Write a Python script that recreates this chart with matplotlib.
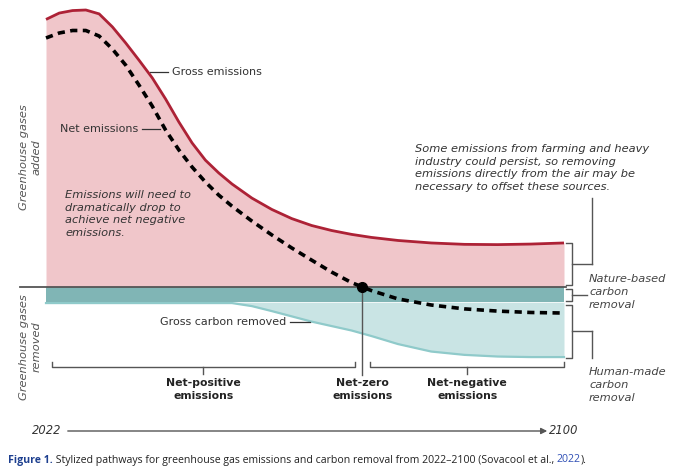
import matplotlib
matplotlib.use("Agg")
import matplotlib.pyplot as plt
import numpy as np

# values (arbitrary units, gross peak ~100)
years = [2022, 2024, 2026, 2028, 2030, 2032, 2034, 2036, 2038, 2040, 2042, 2044, 2046, 2048,
         2050, 2053, 2056, 2059, 2062, 2065, 2068, 2071, 2075, 2080, 2085, 2090, 2095, 2100]
gross_emissions = [96.6, 98.9, 99.8, 100.0, 98.6, 93.9, 88.1, 81.9, 75.5, 67.9, 59.6, 52.0, 45.8, 41.2,
                   37.2, 32.1, 28.0, 24.7, 22.2, 20.4, 19.0, 17.9, 16.8, 15.9, 15.4, 15.3, 15.5, 15.9]
net_emissions = [89.9, 91.7, 92.6, 92.6, 90.6, 85.9, 80.1, 72.9, 65.3, 56.7, 49.5, 43.3, 37.9, 33.2,
                 29.2, 23.8, 18.8, 14.1, 9.7, 5.4, 1.6, -1.3, -4.3, -6.5, -7.9, -8.7, -9.2, -9.4]
gross_removed = [-5.8, -5.8, -5.8, -5.8, -5.8, -5.8, -5.8, -5.8, -5.8, -5.8, -5.8, -5.8, -5.8, -5.8,
                 -5.8, -6.9, -8.7, -10.6, -12.5, -14.1, -15.7, -17.7, -20.6, -23.3, -24.5, -25.1, -25.3, -25.3]
nature_based = -5.5

x = np.array(years, dtype=float)
gross = np.array(gross_emissions)
net = np.array(net_emissions)
removed = np.array(gross_removed)

RED_FILL = '#f0c6ca'
RED_LINE = '#ad2236'
TEAL_DARK = '#80b5b5'
TEAL_LIGHT = '#c9e4e4'
TEAL_EDGE = '#8fcaca'
GREY = '#555555'
TXT = '#333333'

W, H = 680, 476
XS = 518 / 78.0   # px per year
YS = 2.77         # px per unit
X_LEFT_PX, ZERO_PX = 46, 287

def dx(p):
    return 2022 + (p - X_LEFT_PX) / XS

def dy(p):
    return (ZERO_PX - p) / YS

plt.rcParams['font.family'] = ['DejaVu Sans']

fig = plt.figure(figsize=(W / 100, H / 100), dpi=100)
ax = fig.add_axes([0, 0, 1, 1])
ax.set_xlim(dx(0), dx(W))
ax.set_ylim(dy(H), dy(0))
ax.axis('off')

# areas
ax.fill_between(x, 0, gross, color=RED_FILL, lw=0, zorder=1)
ax.fill_between(x, nature_based, removed, color=TEAL_LIGHT, lw=0, zorder=1)
ax.fill_between(x, 0, nature_based, color=TEAL_DARK, lw=0, zorder=2)
ax.plot(x, removed, color=TEAL_EDGE, lw=1.6, zorder=2)
ax.plot(x, gross, color=RED_LINE, lw=2.0, solid_capstyle='butt', solid_joinstyle='round', zorder=3)
ax.plot([dx(20), dx(566)], [0, 0], color=GREY, lw=1.3, zorder=3)
ax.plot(x, net, color='black', lw=2.6, dashes=(2.0, 1.5), zorder=4)

# net-zero point
k = int(np.argmax(net))
nz_year = np.interp(0, net[k:][::-1], x[k:][::-1])
ax.plot([nz_year], [0], 'o', color='black', ms=7, zorder=5)
ax.plot([nz_year, nz_year], [0, dy(375)], color=GREY, lw=1.0, zorder=4)

# curve labels
lab = dict(fontsize=8.0, color=TXT, va='center')
ax.plot([dx(150), dx(168)], [dy(72)] * 2, color=TXT, lw=0.9)
ax.text(dx(172), dy(72), 'Gross emissions', ha='left', **lab)
ax.plot([dx(142), dx(160)], [dy(129)] * 2, color=TXT, lw=0.9)
ax.text(dx(138), dy(129), 'Net emissions', ha='right', **lab)
ax.plot([dx(290), dx(310)], [dy(322)] * 2, color=TXT, lw=0.9)
ax.text(dx(286), dy(322), 'Gross carbon removed', ha='right', **lab)

it = dict(fontsize=8.2, color=TXT, style='italic', linespacing=1.32)
ax.text(dx(65), dy(190), 'Emissions will need to\ndramatically drop to\nachieve net negative\nemissions.',
        ha='left', va='top', **it)
ax.text(dx(415), dy(144), 'Some emissions from farming and heavy\nindustry could persist, so removing\n'
        'emissions directly from the air may be\nnecessary to offset these sources.',
        ha='left', va='top', **it)

# y-side labels
yl = dict(fontsize=8.2, color=GREY, style='italic', rotation=90, ha='center', va='center',
          multialignment='center', linespacing=1.3)
ax.text(dx(30), dy(157), 'Greenhouse gases\nadded', **yl)
ax.text(dx(30), dy(347), 'Greenhouse gases\nremoved', **yl)

# right-hand brackets
bl = dict(color=GREY, lw=1.0)
def vbracket(top, bottom, tick_to):
    ax.plot([dx(566), dx(572), dx(572), dx(566)], [top, top, bottom, bottom], **bl)
    mid = (top + bottom) / 2
    ax.plot([dx(572), tick_to], [mid, mid], **bl)
    return mid

m1 = vbracket(gross[-1], dy(285), dx(592))
ax.plot([dx(592), dx(592)], [m1, dy(198)], **bl)
vbracket(dy(289), dy(301), dx(587))
m3 = vbracket(dy(305), removed[-1] - 0.3, dx(592))
ax.plot([dx(592), dx(592)], [m3, dy(358)], **bl)

rt = dict(it, color='#444444', linespacing=1.35)
ax.text(dx(589), dy(292), 'Nature-based\ncarbon\nremoval', ha='left', va='center', **rt)
ax.text(dx(589), dy(385), 'Human-made\ncarbon\nremoval', ha='left', va='center', **rt)

# bottom brackets
def hbracket(left, right):
    ax.plot([left, left, right, right], [dy(362), dy(367), dy(367), dy(362)], **bl)
    c = (left + right) / 2
    ax.plot([c, c], [dy(367), dy(374)], **bl)
    return c

c1 = hbracket(dx(52), nz_year - 1.2)
c2 = hbracket(nz_year + 1.2, x[-1])
bd = dict(fontsize=7.8, color='#222222', fontweight='bold', ha='center', va='top', linespacing=1.35)
ax.text(c1, dy(378), 'Net-positive\nemissions', **bd)
ax.text(nz_year, dy(378), 'Net-zero\nemissions', **bd)
ax.text(c2, dy(378), 'Net-negative\nemissions', **bd)

# time arrow
ax.text(dx(61), dy(431), '2022', ha='right', va='center', fontsize=8.3, style='italic', color=TXT)
ax.annotate('', xy=(dx(550), dy(431)), xytext=(dx(65), dy(431)),
            arrowprops=dict(arrowstyle='-|>', color=GREY, lw=1.0, mutation_scale=9))
ax.text(dx(549), dy(431), '2100', ha='left', va='center', fontsize=8.3, style='italic', color=TXT)

# caption
cap_parts = [('Figure 1.', '#1d3f8f', 'bold'),
             (' Stylized pathways for greenhouse gas emissions and carbon removal from 2022\u20132100 (Sovacool et al., ', '#222222', 'normal'),
             ('2022', '#2f4fb5', 'normal'),
             (').', '#222222', 'normal')]
renderer = fig.canvas.get_renderer()
xpos = 8
for s, col, wt in cap_parts:
    t = fig.text(xpos / W, 1 - 460 / H, s, fontsize=7.6, color=col, fontweight=wt,
                 family=['Open Sans', 'DejaVu Sans'], va='center', ha='left')
    bb = t.get_window_extent(renderer)
    xpos = bb.x1

fig.savefig('out.png', dpi=100)
